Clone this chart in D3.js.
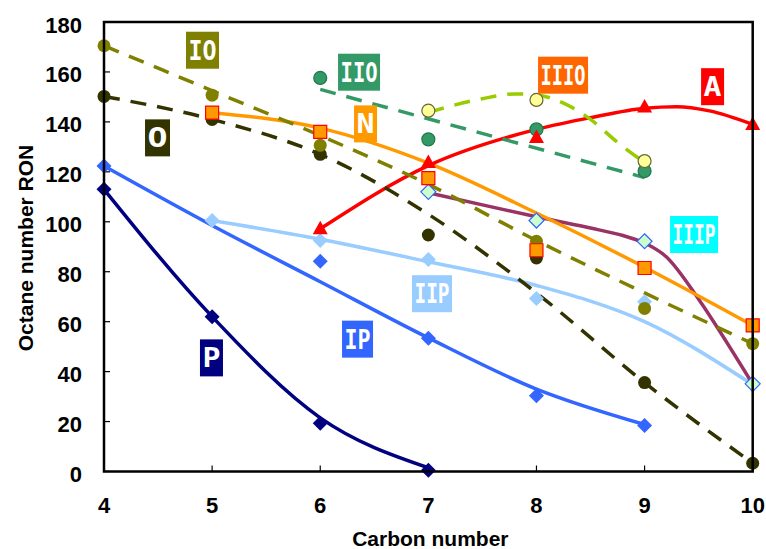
<!DOCTYPE html>
<html>
<head>
<meta charset="utf-8">
<script src="https://cdn.jsdelivr.net/npm/d3@7"></script>
<style>
  html, body { margin: 0; padding: 0; background: #fff; }
  svg { display: block; }
</style>
</head>
<body>
<svg id="chart" width="766" height="549"></svg>
<script>
// Axis ticks
const xTicks = [4, 5, 6, 7, 8, 9, 10];
const yTicks = [0, 20, 40, 60, 80, 100, 120, 140, 160, 180];

// Measured octane numbers (RON) per carbon number
const pCarbon = [4, 5, 6, 7];               const pRON = [113, 62, 19.3, 0.5];
const ipCarbon = [4, 6, 7, 8, 9];           const ipRON = [122.3, 84.2, 53.4, 30.3, 18.4];
const iipCarbon = [5, 6, 7, 8, 9, 10];      const iipRON = [100.5, 92.5, 84.9, 69.3, 68, 34.8];
const iiipCarbon = [7, 8, 9, 10];           const iiipRON = [112, 100.5, 92.2, 35.1];
const nCarbon = [5, 6, 7, 8, 9, 10];        const nRON = [143.7, 136, 117.5, 88.6, 81.5, 58.5];
const aCarbon = [6, 7, 8, 9, 10];           const aRON = [97.2, 123.7, 133.7, 146, 139];
const oCarbon = [4, 5, 6, 7, 8, 9, 10];     const oRON = [150.2, 141, 127, 94.7, 85.5, 35.6, 3.3];
const ioCarbon = [4, 5, 6, 8, 9, 10];       const ioRON = [170.5, 150.7, 130.6, 92.2, 65.3, 51.2];
const iioCarbon = [6, 7, 8, 9];             const iioRON = [157.6, 133, 137, 120.3];
const iiioCarbon = [7, 8, 9];               const iiioRON = [144.5, 148.8, 124.3];

// Trend curves through each family
const pFitC = [4, 5, 6, 7];                 const pFitR = [113, 62, 21.5, 1.5];
const ipFitC = [4, 5, 6, 7, 8, 9];          const ipFitR = [122.3, 98.5, 76, 53.5, 33, 18.8];
const iipFitC = [5, 6, 7, 8, 9, 10];        const iipFitR = [100.5, 93, 84, 74.5, 60, 34.8];
const iiipFitC = [7, 8, 8.5, 8.8, 9, 9.2, 9.5, 10];
const iiipFitR = [111.6, 102, 97.5, 94.5, 91.5, 86, 69, 35];
const nFitC = [5, 6, 7, 8, 9, 10];          const nFitR = [143.7, 137.5, 123.5, 103.5, 81.8, 58.5];
const aFitC = [6, 7, 8, 8.5, 9, 9.3, 9.6, 10];
const aFitR = [97.2, 122.5, 137, 141.7, 145.5, 146.1, 144.4, 139];
const oFitC = [4, 5, 6, 7, 8, 9, 10];       const oFitR = [150.2, 141, 127, 103, 71.5, 35.6, 3.3];
const ioFitC = [4, 5, 6, 7, 8, 9, 10];      const ioFitR = [170.5, 152.5, 134.5, 115, 92.5, 71.5, 51.2];
const iioFitC = [6, 9];                     const iioFitR = [153, 117.7];
const iiioFitC = [7, 7.5, 7.8, 8, 8.25, 8.5, 8.75, 9];
const iiioFitR = [143.8, 149.3, 151.2, 150.8, 147.5, 141, 131.8, 123.7];

const zip = (xs, ys) => xs.map((x, i) => ({ x, y: ys[i] }));

const W = 766, H = 549;
const margin = { left: 104, right: 13.3, top: 22, bottom: 77.5 };

const x = d3.scaleLinear().domain([4, 10]).range([margin.left, W - margin.right]);
const y = d3.scaleLinear().domain([0, 180]).range([H - margin.bottom, margin.top]);

const svg = d3.select("#chart");
const font = "'Liberation Sans', Arial, sans-serif";

// Series styling
const series = [
  { name: "P",    pts: zip(pCarbon, pRON),       fit: zip(pFitC, pFitR),       line: "#000080", dash: null, shape: "diamond", fill: "#000080", stroke: "none" },
  { name: "IP",   pts: zip(ipCarbon, ipRON),     fit: zip(ipFitC, ipFitR),     line: "#3366FF", dash: null, shape: "diamond", fill: "#3366FF", stroke: "none" },
  { name: "IIP",  pts: zip(iipCarbon, iipRON),   fit: zip(iipFitC, iipFitR),   line: "#99CCFF", dash: null, shape: "diamond", fill: "#99CCFF", stroke: "none" },
  { name: "IIIP", pts: zip(iiipCarbon, iiipRON), fit: zip(iiipFitC, iiipFitR), line: "#993366", dash: null, shape: "diamond", fill: "#CCFFCC", stroke: "#3366FF", catmull: true },
  { name: "N",    pts: zip(nCarbon, nRON),       fit: zip(nFitC, nFitR),       line: "#FF9900", dash: null, shape: "square",  fill: "#FF9900", stroke: "#FF0000" },
  { name: "A",    pts: zip(aCarbon, aRON),       fit: zip(aFitC, aFitR),       line: "#FF0000", dash: null, shape: "triangle", fill: "#FF0000", stroke: "none" },
  { name: "O",    pts: zip(oCarbon, oRON),       fit: zip(oFitC, oFitR),       line: "#333300", dash: "16 11", shape: "circle", fill: "#333300", stroke: "none" },
  { name: "IO",   pts: zip(ioCarbon, ioRON),     fit: zip(ioFitC, ioFitR),     line: "#808000", dash: "16 11", shape: "circle", fill: "#808000", stroke: "none" },
  { name: "IIO",  pts: zip(iioCarbon, iioRON),   fit: zip(iioFitC, iioFitR),   line: "#339966", dash: "16 11", shape: "circle", fill: "#339966", stroke: "#22794a" },
  { name: "IIIO", pts: zip(iiioCarbon, iiioRON), fit: zip(iiioFitC, iiioFitR), line: "#99CC00", dash: "16 11", shape: "circle", fill: "#FFFF99", stroke: "#666633" }
];

// Family name tags placed in data coordinates
const tags = [
  { text: "IO",   cx: 4.911, cy: 168.7, w: 33, bg: "#808000" },
  { text: "O",    cx: 4.495, cy: 133.6, w: 25, bg: "#333300" },
  { text: "IIO",  cx: 6.359, cy: 159.9, w: 42, bg: "#339966" },
  { text: "N",    cx: 6.419, cy: 139.2, w: 23, bg: "#FF9900" },
  { text: "IIIO", cx: 8.246, cy: 158.7, w: 50, bg: "#FF6600" },
  { text: "A",    cx: 9.629, cy: 154.1, w: 23, bg: "#FF0000" },
  { text: "IIIP", cx: 9.458, cy: 94.9,  w: 48, bg: "#00FFFF" },
  { text: "IIP",  cx: 7.034, cy: 71.2,  w: 40, bg: "#99CCFF" },
  { text: "IP",   cx: 6.345, cy: 53.0,  w: 31, bg: "#3366FF" },
  { text: "P",    cx: 4.994, cy: 45.5,  w: 23, bg: "#000080" }
];

// Plot frame
const x0 = x(4), x1 = x(10), y0 = y(0), y1 = y(180);

// Inward ticks
const tickG = svg.append("g").attr("stroke", "#000").attr("stroke-width", 1.2);
yTicks.forEach(t => {
  tickG.append("line").attr("x1", x0).attr("x2", x0 + 6).attr("y1", y(t)).attr("y2", y(t));
});
xTicks.forEach(t => {
  tickG.append("line").attr("x1", x(t)).attr("x2", x(t)).attr("y1", y0).attr("y2", y0 - 6);
});

// Tick labels
svg.append("g").selectAll("text").data(yTicks).join("text")
  .attr("x", x0 - 22).attr("y", d => y(d) + 10.5)
  .attr("text-anchor", "end")
  .attr("font-family", font).attr("font-weight", "bold").attr("font-size", 22)
  .text(d => d);
svg.append("g").selectAll("text").data(xTicks).join("text")
  .attr("x", d => x(d)).attr("y", 513)
  .attr("text-anchor", "middle")
  .attr("font-family", font).attr("font-weight", "bold").attr("font-size", 22)
  .text(d => d);

// Axis titles
svg.append("text")
  .attr("x", (x0 + x1) / 2 + 2).attr("y", 546)
  .attr("text-anchor", "middle")
  .attr("font-family", font).attr("font-weight", "bold").attr("font-size", 21)
  .text("Carbon number");
svg.append("text")
  .attr("transform", "translate(33,248) rotate(-90)")
  .attr("text-anchor", "middle")
  .attr("font-family", font).attr("font-weight", "bold").attr("font-size", 21)
  .text("Octane number RON");

// Trend curves: solid first, dashed on top
const smooth = d3.line().x(d => x(d.x)).y(d => y(d.y)).curve(d3.curveMonotoneX);
const spline = d3.line().x(d => x(d.x)).y(d => y(d.y)).curve(d3.curveCatmullRom.alpha(0.5));
const lineOrder = ["P", "IP", "IIP", "IIIP", "N", "A", "O", "IO", "IIO", "IIIO"];
const lines = svg.append("g").attr("fill", "none");
lineOrder.forEach(n => {
  const s = series.find(d => d.name === n);
  lines.append("path")
    .attr("d", (s.catmull ? spline : smooth)(s.fit))
    .attr("stroke", s.line)
    .attr("stroke-width", 3.5)
    .attr("stroke-dasharray", s.dash)
    .attr("stroke-linecap", "butt");
});

// Markers
function markerPath(shape) {
  if (shape === "diamond") return "M0,-7.5L7.5,0L0,7.5L-7.5,0Z";
  if (shape === "square") return "M-6.5,-6.5H6.5V6.5H-6.5Z";
  if (shape === "triangle") return "M0,-8L7.5,5.5H-7.5Z";
  return d3.arc()({ innerRadius: 0, outerRadius: 6.5, startAngle: 0, endAngle: 2 * Math.PI });
}
const markerOrder = ["P", "IP", "IIP", "IIIP", "O", "IO", "IIO", "IIIO", "N", "A"];
const marks = svg.append("g");
markerOrder.forEach(n => {
  const s = series.find(d => d.name === n);
  marks.append("g").selectAll("path").data(s.pts).join("path")
    .attr("transform", d => `translate(${x(d.x)},${y(d.y)})`)
    .attr("d", markerPath(s.shape))
    .attr("fill", s.fill)
    .attr("stroke", s.stroke)
    .attr("stroke-width", 1.2);
});

// Frame on top of curves
svg.append("rect")
  .attr("x", x0).attr("y", y1).attr("width", x1 - x0).attr("height", y0 - y1)
  .attr("fill", "none").attr("stroke", "#000").attr("stroke-width", 2.5);

// Family tags
const tagG = svg.append("g");
tags.forEach(t => {
  const cx = x(t.cx), cy = y(t.cy);
  tagG.append("rect")
    .attr("x", cx - t.w / 2).attr("y", cy - 18.5)
    .attr("width", t.w).attr("height", 37)
    .attr("fill", t.bg);
  tagG.append("text")
    .attr("x", cx).attr("y", cy + 9.5)
    .attr("text-anchor", "middle")
    .attr("font-family", "'DejaVu Sans Mono', monospace")
    .attr("font-weight", "bold").attr("font-size", 27)
    .attr("fill", "#fff")
    .attr("textLength", t.w - 5)
    .attr("lengthAdjust", "spacingAndGlyphs")
    .text(t.text);
});
</script>
</body>
</html>
